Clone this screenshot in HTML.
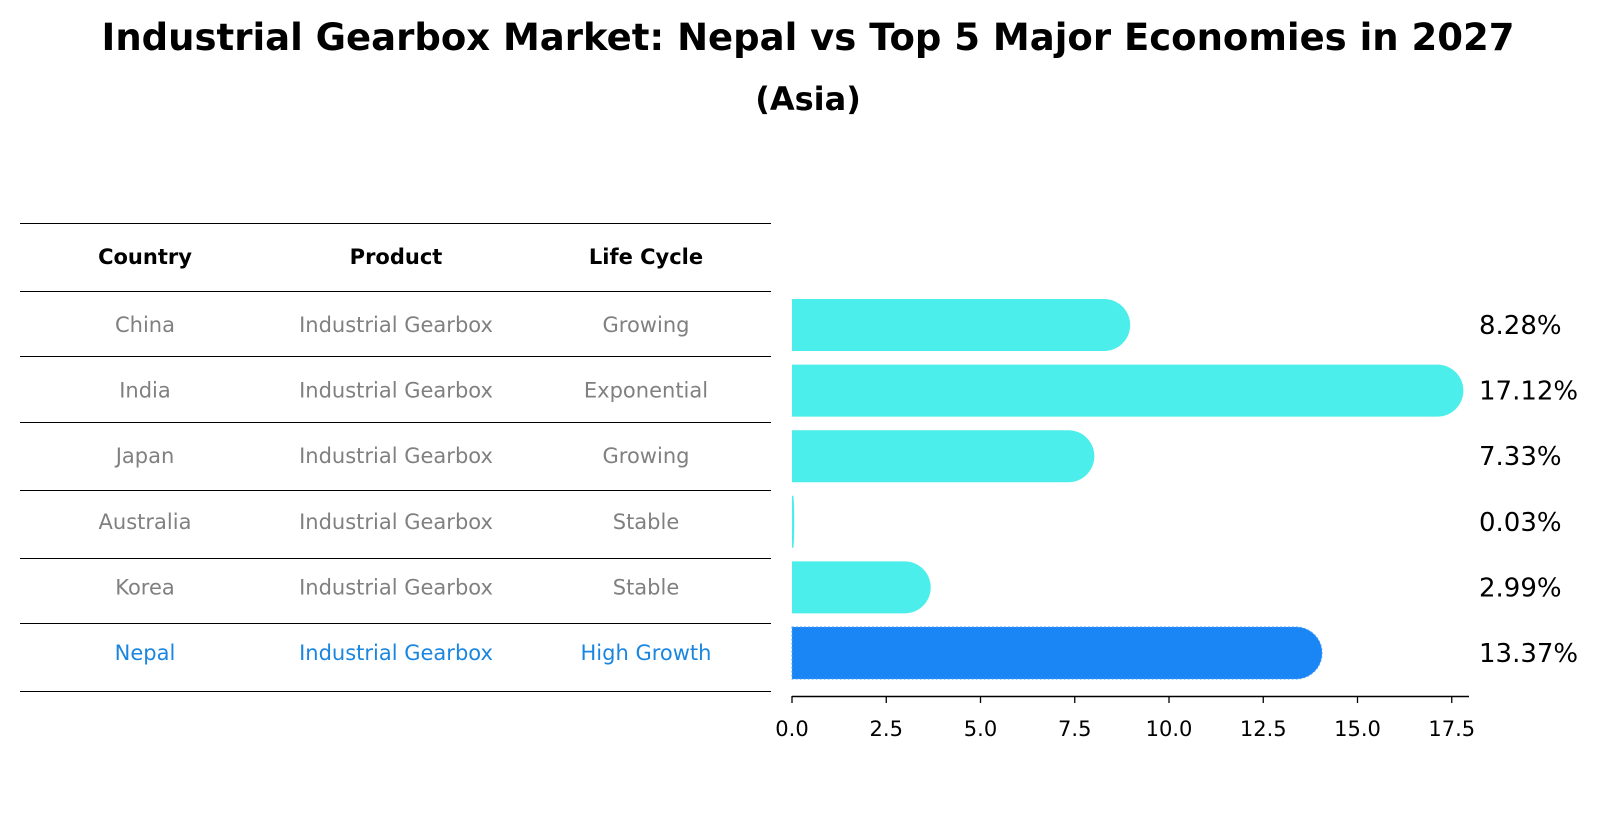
<!DOCTYPE html>
<html><head><meta charset="utf-8"><style>
body{margin:0;background:#fff;font-family:"Liberation Sans","DejaVu Sans",sans-serif;}
</style></head><body>
<svg width="1604" height="823" xmlns="http://www.w3.org/2000/svg" font-family="DejaVu Sans, Liberation Sans, sans-serif">
<text x="808" y="50" text-anchor="middle" font-size="37" font-weight="bold">Industrial Gearbox Market: Nepal vs Top 5 Major Economies in 2027</text>
<text x="808" y="110" text-anchor="middle" font-size="32" font-weight="bold">(Asia)</text>
<g id="table"></g>
<g id="bars"></g>
</svg>
<script>
const countries=["China","India","Japan","Australia","Korea","Nepal"];
const products=["Industrial Gearbox","Industrial Gearbox","Industrial Gearbox","Industrial Gearbox","Industrial Gearbox","Industrial Gearbox"];
const lifeCycles=["Growing","Exponential","Growing","Stable","Stable","High Growth"];
const values=[8.28,17.12,7.33,0.03,2.99,13.37];
const ticks=[0,2.5,5,7.5,10,12.5,15,17.5];
const NS="http://www.w3.org/2000/svg";
function mk(t,a,p){const e=document.createElementNS(NS,t);for(const k in a)e.setAttribute(k,a[k]);p.appendChild(e);return e;}
const x=v=>792+v*37.7;
const rowY=i=>325+i*65.6;
const tb=document.getElementById('table'), bg=document.getElementById('bars');
const lines=[223,291,356,422,490,558,623,691];
lines.forEach(y=>{const l=mk('line',{x1:20,x2:771,y1:y+0.5,y2:y+0.5,stroke:'#000','stroke-width':1},tb);

});
const cx=[145,396,646];
["Country","Product","Life Cycle"].forEach((h,j)=>{const t=mk('text',{x:cx[j],y:264,'text-anchor':'middle','font-size':21,'font-weight':'bold'},tb);t.textContent=h;

});
countries.forEach((c,i)=>{
 const y=rowY(i)+7; const col=i===5?'#1a86e0':'#808080';
 [c,products[i],lifeCycles[i]].forEach((s,j)=>{const t=mk('text',{x:cx[j],y:y,'text-anchor':'middle','font-size':21,fill:col},tb);t.textContent=s;
 
 });
 const h=52,x0=x(0),x1=x(values[i]),top=rowY(i)-h/2;
 const r=Math.min(26,x1-x0);
 const d=`M${x0},${top} H${x1} A${r},${h/2} 0 0 1 ${x1},${top+h} H${x0} Z`;
 const b=mk('path',{d:d,fill:i===5?'#1a86f5':'#4beeea'},bg);
 if(i===5){b.setAttribute('stroke','#4aa0ff');b.setAttribute('stroke-dasharray','2 2');b.setAttribute('stroke-width','1');}
 
 
 const t=mk('text',{x:1479,y:rowY(i)+9,'font-size':26},bg);t.textContent=values[i].toFixed(2)+'%';
 
 
});
const ax=mk('line',{x1:792,x2:1469,y1:696.5,y2:696.5,stroke:'#000','stroke-width':1.5},bg);


ticks.forEach(v=>{const l=mk('line',{x1:x(v),x2:x(v),y1:696,y2:703,stroke:'#000','stroke-width':1.3},bg);


const t=mk('text',{x:x(v),y:736,'text-anchor':'middle','font-size':21},bg);t.textContent=v.toFixed(1);

});
</script>
</body></html>
